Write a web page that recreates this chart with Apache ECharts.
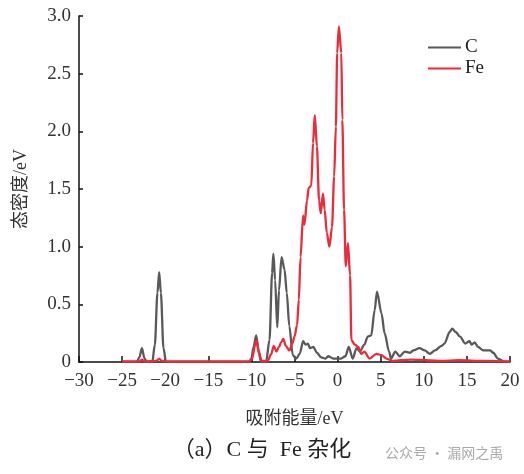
<!DOCTYPE html>
<html><head><meta charset="utf-8">
<script src="https://cdn.jsdelivr.net/npm/echarts@6/dist/echarts.min.js"></script>
<style>html,body{margin:0;padding:0;background:#fff}#c{width:524px;height:474px}</style>
</head><body><div id="c"></div>
<script>
const xTicks = [-30,-25,-20,-15,-10,-5,0,5,10,15,20];
const yTicks = [0,0.5,1.0,1.5,2.0,2.5,3.0];
const seriesNames = ['C','Fe'];
const cX = [-25,-23.3,-23.0,-22.7,-22.4,-22.1,-21.5,-21.2,-20.9,-20.7,-20.5,-20.2,-19.9,-10.3,-10.0,-9.75,-9.45,-9.15,-8.9,-8.3,-7.9,-7.6,-7.45,-7.25,-7.0,-6.8,-6.5,-6.15,-5.9,-5.6,-5.2,-4.8,-4.4,-4.0,-3.7,-3.45,-3.2,-2.8,-2.4,-1.9,-1.4,-1.1,-0.5,0.4,0.9,1.3,1.75,2.2,2.6,3.1,3.5,3.9,4.3,4.57,5.1,5.45,5.97,6.2,6.7,7.2,7.8,8.4,8.8,9.5,10.1,10.7,11.3,12.05,12.4,13.0,13.3,13.7,14.2,14.8,15.3,15.55,15.9,16.3,16.9,17.7,18.05,18.6,19.4,20];
const cY = [0,0,0.04,0.12,0.03,0,0,0.15,0.6,0.78,0.6,0.12,0,0,0.03,0.13,0.23,0.10,0,0,0.19,0.77,0.94,0.71,0.30,0.62,0.91,0.80,0.60,0.31,0.06,0.03,0.07,0.18,0.15,0.16,0.12,0.13,0.08,0.04,0.03,0.05,0.03,0.03,0.05,0.13,0.03,0.12,0.09,0.15,0.22,0.23,0.45,0.61,0.42,0.25,0.09,0.03,0.09,0.05,0.09,0.08,0.10,0.12,0.10,0.07,0.10,0.14,0.16,0.26,0.29,0.26,0.22,0.16,0.18,0.15,0.17,0.13,0.10,0.10,0.08,0.03,0,0];
const feX = [-25,-23,-22.7,-22.4,-21.0,-20.7,-20.4,-19.9,-10.2,-9.9,-9.6,-9.4,-9.15,-8.8,-8.1,-7.7,-7.4,-7.1,-6.8,-6.55,-6.3,-6.0,-5.6,-5.25,-5.0,-4.7,-4.5,-4.3,-4.0,-3.85,-3.55,-3.35,-3.05,-2.85,-2.65,-2.4,-2.15,-1.95,-1.7,-1.5,-1.25,-0.95,-0.65,-0.4,-0.2,-0.05,0.15,0.43,0.55,0.75,0.95,1.2,1.45,1.6,2.0,2.4,2.75,3.1,3.7,4.5,5.1,5.65,6.4,8.5,12,14,17,20];
const feY = [0.005,0.005,0.02,0.005,0.01,0.03,0.01,0.005,0.005,0.03,0.14,0.19,0.08,0.01,0.01,0.07,0.14,0.09,0.13,0.17,0.20,0.14,0.10,0.16,0.22,0.32,0.54,0.91,1.27,1.19,1.40,1.51,1.53,1.90,2.14,1.87,1.40,1.29,1.46,1.32,1.12,1.00,1.17,1.61,2.04,2.68,2.91,2.68,2.10,1.32,0.83,1.03,0.75,0.19,0.15,0.13,0.07,0.09,0.03,0.07,0.06,0.03,0.01,0.02,0.01,0.015,0.01,0.005];

const serif = '"Liberation Serif","Times New Roman","DejaVu Serif","Noto Sans CJK SC",serif';
const chart = echarts.init(document.getElementById('c'));
chart.setOption({
  animation:false,
  backgroundColor:'#fff',
  grid:{left:79,right:14,top:16,bottom:112},
  legend:{
    orient:'vertical', left:423, top:33, itemWidth:33, itemHeight:2, itemGap:2,
    icon:'rect',
    textStyle:{fontFamily:serif,fontSize:19,color:'#222',lineHeight:16,padding:[0,0,0,-1]},
    data:seriesNames
  },
  xAxis:{
    type:'value', min:-30, max:20, interval:5,
    name:'吸附能量/eV', nameLocation:'middle', nameGap:48,
    nameTextStyle:{fontFamily:serif,fontSize:18,color:'#333'},
    axisLine:{show:true,onZero:false,lineStyle:{color:'#111',width:1.5}},
    axisTick:{show:true,inside:true,length:6,lineStyle:{color:'#111',width:1.5}},
    axisLabel:{fontFamily:serif,fontSize:19,color:'#333',margin:10,
      formatter:v=>String(v).replace('-','\u2212')},
    splitLine:{show:false}
  },
  yAxis:{
    type:'value', position:'left', min:0, max:3, interval:0.5,
    name:'态密度/eV', nameLocation:'middle', nameGap:49,
    nameTextStyle:{fontFamily:serif,fontSize:18,color:'#333'},
    axisLine:{show:true,onZero:false,lineStyle:{color:'#111',width:1.5,type:'solid'}},
    axisTick:{show:true,inside:true,length:4,lineStyle:{color:'#111',width:1.5}},
    axisLabel:{fontFamily:serif,fontSize:19,color:'#333',margin:8,
      formatter:v=>v===0?'0':v.toFixed(1)},
    splitLine:{show:false}
  },
  series:[
    {name:'C',type:'line',showSymbol:false,smooth:0.3,smoothMonotone:'x',
     lineStyle:{color:'#595959',width:2.3},itemStyle:{color:'#595959'},
     data:cX.map((x,i)=>[x,cY[i]]),z:2},
    {name:'Fe',type:'line',showSymbol:false,smooth:0.3,smoothMonotone:'x',
     lineStyle:{color:'#ee2a3a',width:2.3},itemStyle:{color:'#ee2a3a'},
     data:feX.map((x,i)=>[x,feY[i]]),z:3}
  ],
  graphic:[
    {type:'text',left:'center',top:439,style:{text:'（a）C 与  Fe 杂化',font:'22px '+serif,fill:'#222'},x:-4},
    {type:'text',left:385,top:446,style:{text:'公众号 · 漏网之禹',font:'14px "Noto Sans CJK SC",sans-serif',fill:'#aaaaaa'}}
  ]
});
</script></body></html>
